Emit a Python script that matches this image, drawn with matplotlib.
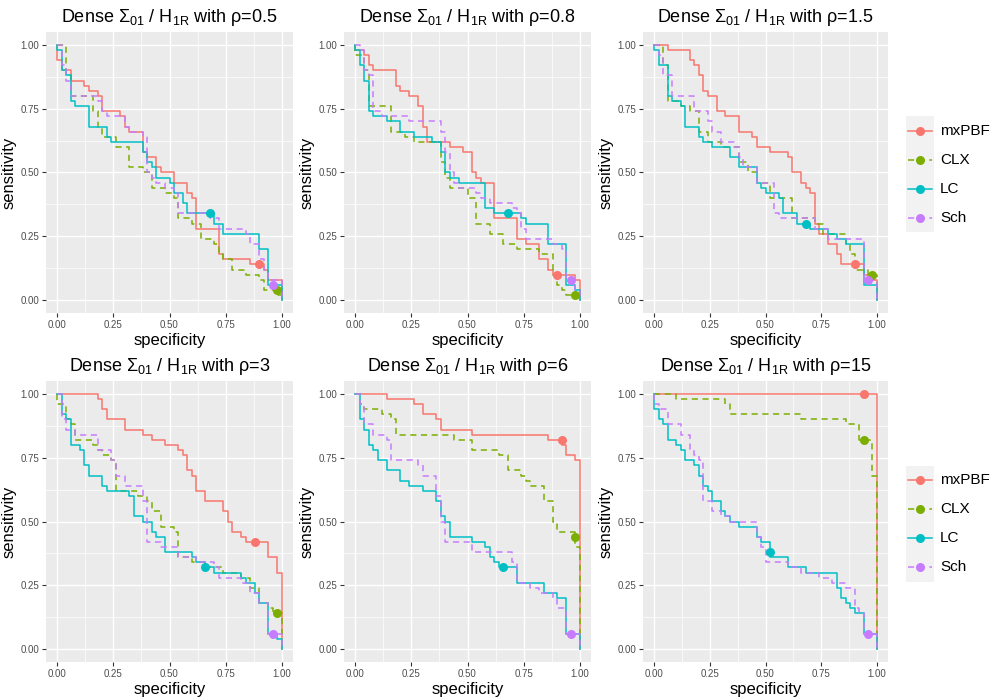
import matplotlib
matplotlib.use("Agg")
import matplotlib.pyplot as plt
from matplotlib.lines import Line2D
from matplotlib.patches import Rectangle

plt.rcParams['font.family'] = ['Liberation Sans', 'DejaVu Sans']
plt.rcParams['mathtext.fontset'] = 'custom'
plt.rcParams['mathtext.rm'] = 'Liberation Sans'
plt.rcParams['mathtext.default'] = 'regular'

methods = ['mxPBF', 'CLX', 'LC', 'Sch']
colors = ['#F8766D', '#7CAE00', '#00BFC4', '#C77CFF']
dashed = [False, True, False, True]
rhos = ['0.5', '0.8', '1.5', '3', '6', '15']

# ---- rho = 0.5 ----
r1_mx_x = [0, 0, 0.02, 0.06, 0.12, 0.14, 0.18, 0.20, 0.28, 0.30, 0.32, 0.38, 0.40, 0.44, 0.46, 0.52, 0.58, 0.60, 0.62, 0.72, 0.74, 0.86, 0.92, 0.94, 1]
r1_mx_y = [1, 0.94, 0.90, 0.86, 0.84, 0.82, 0.80, 0.74, 0.72, 0.68, 0.66, 0.58, 0.56, 0.52, 0.50, 0.46, 0.42, 0.40, 0.28, 0.18, 0.16, 0.14, 0.12, 0.08, 0]
r1_clx_x = [0, 0.04, 0.06, 0.16, 0.18, 0.20, 0.26, 0.32, 0.38, 0.42, 0.48, 0.52, 0.54, 0.60, 0.64, 0.70, 0.72, 0.74, 0.78, 0.84, 0.90, 0.92, 0.98, 1]
r1_clx_y = [1, 0.88, 0.80, 0.74, 0.68, 0.64, 0.60, 0.52, 0.50, 0.44, 0.42, 0.40, 0.32, 0.30, 0.24, 0.22, 0.18, 0.16, 0.12, 0.10, 0.08, 0.04, 0.02, 0]
r1_lc_x = [0, 0, 0.02, 0.04, 0.06, 0.08, 0.14, 0.22, 0.24, 0.38, 0.40, 0.42, 0.44, 0.50, 0.52, 0.56, 0.58, 0.70, 0.74, 0.90, 0.94, 1]
r1_lc_y = [1, 0.98, 0.90, 0.88, 0.78, 0.76, 0.68, 0.64, 0.62, 0.58, 0.54, 0.52, 0.48, 0.46, 0.42, 0.38, 0.34, 0.30, 0.26, 0.20, 0.06, 0]
r1_sch_x = [0, 0.02, 0.04, 0.06, 0.18, 0.20, 0.22, 0.30, 0.32, 0.38, 0.40, 0.42, 0.44, 0.48, 0.52, 0.54, 0.68, 0.72, 0.84, 0.86, 0.90, 0.92, 0.94, 1]
r1_sch_y = [1, 0.92, 0.86, 0.80, 0.78, 0.74, 0.72, 0.68, 0.66, 0.64, 0.50, 0.48, 0.46, 0.44, 0.42, 0.34, 0.32, 0.28, 0.26, 0.22, 0.16, 0.12, 0.08, 0]
r1_pts_x = [0.90, 0.98, 0.68, 0.96]
r1_pts_y = [0.14, 0.04, 0.34, 0.06]

# ---- rho = 0.8 ----
r2_mx_x = [0, 0, 0.04, 0.06, 0.08, 0.18, 0.20, 0.24, 0.28, 0.30, 0.32, 0.42, 0.48, 0.52, 0.54, 0.56, 0.62, 0.72, 0.76, 0.82, 0.86, 0.88, 0.98, 1]
r2_mx_y = [1, 0.98, 0.96, 0.92, 0.90, 0.84, 0.82, 0.80, 0.76, 0.68, 0.62, 0.60, 0.58, 0.50, 0.48, 0.46, 0.32, 0.24, 0.22, 0.16, 0.12, 0.10, 0.08, 0]
r2_clx_x = [0, 0, 0.04, 0.06, 0.16, 0.22, 0.26, 0.38, 0.40, 0.42, 0.50, 0.54, 0.60, 0.66, 0.72, 0.82, 0.88, 0.90, 0.92, 0.94, 1]
r2_clx_y = [1, 0.96, 0.90, 0.76, 0.66, 0.64, 0.62, 0.54, 0.48, 0.44, 0.40, 0.30, 0.26, 0.22, 0.20, 0.18, 0.10, 0.06, 0.04, 0.02, 0]
r2_lc_x = [0, 0, 0.02, 0.04, 0.06, 0.08, 0.14, 0.20, 0.26, 0.34, 0.38, 0.40, 0.42, 0.46, 0.58, 0.62, 0.74, 0.76, 0.86, 0.94, 0.98, 1]
r2_lc_y = [1, 0.98, 0.92, 0.86, 0.74, 0.72, 0.70, 0.66, 0.64, 0.62, 0.58, 0.50, 0.48, 0.46, 0.36, 0.34, 0.32, 0.30, 0.22, 0.06, 0.04, 0]
r2_sch_x = [0, 0.02, 0.04, 0.06, 0.08, 0.12, 0.24, 0.38, 0.40, 0.42, 0.44, 0.46, 0.54, 0.56, 0.60, 0.70, 0.72, 0.74, 0.76, 0.88, 0.92, 0.94, 0.98, 1]
r2_sch_y = [1, 0.98, 0.90, 0.88, 0.74, 0.72, 0.70, 0.66, 0.58, 0.50, 0.46, 0.44, 0.42, 0.40, 0.38, 0.36, 0.34, 0.28, 0.24, 0.22, 0.20, 0.08, 0.04, 0]
r2_pts_x = [0.90, 0.98, 0.68, 0.96]
r2_pts_y = [0.10, 0.02, 0.34, 0.08]

# ---- rho = 1.5 ----
r3_mx_x = [0, 0.06, 0.16, 0.18, 0.20, 0.22, 0.24, 0.28, 0.32, 0.38, 0.44, 0.46, 0.52, 0.60, 0.62, 0.66, 0.68, 0.70, 0.72, 0.74, 0.78, 0.82, 0.84, 0.94, 0.98, 1]
r3_mx_y = [1, 0.98, 0.94, 0.92, 0.88, 0.82, 0.80, 0.74, 0.72, 0.66, 0.64, 0.60, 0.58, 0.56, 0.50, 0.46, 0.44, 0.42, 0.30, 0.26, 0.22, 0.18, 0.14, 0.10, 0.08, 0]
r3_clx_x = [0, 0.04, 0.06, 0.12, 0.16, 0.20, 0.24, 0.30, 0.38, 0.42, 0.46, 0.52, 0.62, 0.72, 0.76, 0.86, 0.88, 0.90, 0.96, 1]
r3_clx_y = [1, 0.92, 0.78, 0.76, 0.74, 0.66, 0.62, 0.60, 0.54, 0.50, 0.46, 0.40, 0.32, 0.30, 0.26, 0.22, 0.18, 0.12, 0.10, 0]
r3_lc_x = [0, 0, 0.02, 0.06, 0.08, 0.12, 0.14, 0.20, 0.22, 0.26, 0.34, 0.38, 0.46, 0.48, 0.50, 0.56, 0.58, 0.64, 0.70, 0.78, 0.82, 0.86, 0.94, 1]
r3_lc_y = [1, 0.98, 0.92, 0.80, 0.78, 0.76, 0.68, 0.64, 0.62, 0.60, 0.56, 0.52, 0.46, 0.44, 0.42, 0.40, 0.34, 0.30, 0.28, 0.26, 0.24, 0.22, 0.06, 0]
r3_sch_x = [0, 0.02, 0.04, 0.08, 0.18, 0.24, 0.26, 0.30, 0.36, 0.38, 0.40, 0.46, 0.54, 0.56, 0.72, 0.78, 0.94, 1]
r3_sch_y = [1, 0.96, 0.88, 0.80, 0.74, 0.70, 0.66, 0.62, 0.60, 0.56, 0.52, 0.46, 0.34, 0.32, 0.28, 0.24, 0.08, 0]
r3_pts_x = [0.90, 0.98, 0.68, 0.96]
r3_pts_y = [0.14, 0.10, 0.30, 0.08]

# ---- rho = 3 ----
r4_mx_x = [0, 0.18, 0.20, 0.22, 0.30, 0.38, 0.42, 0.48, 0.54, 0.56, 0.58, 0.60, 0.62, 0.66, 0.74, 0.76, 0.78, 0.82, 0.84, 0.94, 0.98, 1]
r4_mx_y = [1, 0.98, 0.94, 0.90, 0.86, 0.84, 0.82, 0.80, 0.78, 0.76, 0.70, 0.68, 0.62, 0.58, 0.54, 0.50, 0.46, 0.44, 0.42, 0.36, 0.30, 0]
r4_clx_x = [0, 0, 0.04, 0.06, 0.08, 0.16, 0.18, 0.20, 0.24, 0.26, 0.36, 0.40, 0.42, 0.46, 0.52, 0.54, 0.60, 0.66, 0.74, 0.82, 0.86, 0.90, 0.94, 0.96, 1]
r4_clx_y = [1, 0.96, 0.90, 0.88, 0.82, 0.80, 0.78, 0.76, 0.74, 0.62, 0.60, 0.58, 0.54, 0.48, 0.46, 0.36, 0.34, 0.32, 0.30, 0.28, 0.24, 0.18, 0.16, 0.14, 0]
r4_lc_x = [0, 0.02, 0.04, 0.06, 0.10, 0.12, 0.14, 0.20, 0.22, 0.32, 0.34, 0.38, 0.42, 0.44, 0.48, 0.60, 0.62, 0.66, 0.70, 0.82, 0.84, 0.88, 0.90, 0.94, 0.98, 1]
r4_lc_y = [1, 0.92, 0.90, 0.80, 0.78, 0.72, 0.68, 0.64, 0.62, 0.60, 0.52, 0.50, 0.46, 0.44, 0.38, 0.36, 0.34, 0.32, 0.30, 0.28, 0.26, 0.22, 0.18, 0.06, 0.04, 0]
r4_sch_x = [0, 0.02, 0.04, 0.08, 0.18, 0.24, 0.26, 0.30, 0.38, 0.40, 0.46, 0.54, 0.62, 0.70, 0.72, 0.82, 0.86, 0.90, 0.94, 1]
r4_sch_y = [1, 0.90, 0.86, 0.84, 0.78, 0.74, 0.68, 0.64, 0.58, 0.42, 0.40, 0.36, 0.34, 0.32, 0.28, 0.26, 0.22, 0.18, 0.06, 0]
r4_pts_x = [0.88, 0.98, 0.66, 0.96]
r4_pts_y = [0.42, 0.14, 0.32, 0.06]

# ---- rho = 6 ----
r5_mx_x = [0, 0.14, 0.26, 0.30, 0.36, 0.38, 0.52, 0.86, 0.92, 0.94, 0.98, 1]
r5_mx_y = [1, 0.98, 0.96, 0.92, 0.90, 0.86, 0.84, 0.82, 0.80, 0.76, 0.74, 0]
r5_clx_x = [0, 0.02, 0.04, 0.12, 0.16, 0.18, 0.44, 0.52, 0.64, 0.68, 0.74, 0.76, 0.78, 0.84, 0.88, 0.90, 0.98, 1]
r5_clx_y = [1, 0.96, 0.94, 0.92, 0.90, 0.84, 0.82, 0.78, 0.76, 0.70, 0.68, 0.66, 0.64, 0.58, 0.50, 0.46, 0.40, 0]
r5_lc_x = [0, 0.02, 0.04, 0.06, 0.08, 0.10, 0.14, 0.20, 0.24, 0.30, 0.36, 0.38, 0.40, 0.42, 0.52, 0.58, 0.60, 0.62, 0.64, 0.72, 0.84, 0.90, 0.94, 1]
r5_lc_y = [1, 0.90, 0.86, 0.80, 0.78, 0.74, 0.70, 0.66, 0.64, 0.62, 0.58, 0.52, 0.50, 0.44, 0.42, 0.40, 0.36, 0.34, 0.32, 0.26, 0.22, 0.20, 0.06, 0]
r5_sch_x = [0, 0.02, 0.04, 0.08, 0.14, 0.16, 0.28, 0.30, 0.36, 0.38, 0.40, 0.52, 0.70, 0.72, 0.78, 0.82, 0.88, 0.90, 0.94, 1]
r5_sch_y = [1, 0.96, 0.88, 0.84, 0.82, 0.74, 0.72, 0.68, 0.60, 0.50, 0.42, 0.38, 0.34, 0.26, 0.24, 0.22, 0.20, 0.16, 0.06, 0]
r5_pts_x = [0.92, 0.98, 0.66, 0.96]
r5_pts_y = [0.82, 0.44, 0.32, 0.06]

# ---- rho = 15 ----
r6_mx_x = [0, 1]
r6_mx_y = [1, 0]
r6_clx_x = [0, 0.10, 0.32, 0.34, 0.66, 0.86, 0.92, 0.98, 1]
r6_clx_y = [1, 0.98, 0.96, 0.92, 0.90, 0.88, 0.82, 0.68, 0]
r6_lc_x = [0, 0, 0.02, 0.04, 0.06, 0.10, 0.12, 0.14, 0.18, 0.20, 0.22, 0.24, 0.26, 0.30, 0.32, 0.34, 0.38, 0.46, 0.48, 0.52, 0.60, 0.68, 0.82, 0.84, 0.86, 0.88, 0.90, 0.94, 1]
r6_lc_y = [1, 0.94, 0.90, 0.88, 0.82, 0.80, 0.78, 0.74, 0.72, 0.68, 0.64, 0.62, 0.58, 0.54, 0.52, 0.50, 0.48, 0.44, 0.42, 0.36, 0.32, 0.30, 0.24, 0.20, 0.18, 0.16, 0.14, 0.06, 0]
r6_sch_x = [0, 0, 0.02, 0.06, 0.12, 0.16, 0.18, 0.20, 0.22, 0.26, 0.30, 0.34, 0.46, 0.48, 0.50, 0.60, 0.66, 0.74, 0.80, 0.86, 0.90, 0.92, 0.94, 1]
r6_sch_y = [1, 0.96, 0.94, 0.88, 0.84, 0.78, 0.76, 0.74, 0.58, 0.54, 0.52, 0.50, 0.44, 0.40, 0.34, 0.32, 0.30, 0.28, 0.26, 0.24, 0.16, 0.14, 0.06, 0]
r6_pts_x = [0.94, 0.94, 0.52, 0.96]
r6_pts_y = [1.00, 0.82, 0.38, 0.06]

curves = [
    [(r1_mx_x, r1_mx_y), (r1_clx_x, r1_clx_y), (r1_lc_x, r1_lc_y), (r1_sch_x, r1_sch_y)],
    [(r2_mx_x, r2_mx_y), (r2_clx_x, r2_clx_y), (r2_lc_x, r2_lc_y), (r2_sch_x, r2_sch_y)],
    [(r3_mx_x, r3_mx_y), (r3_clx_x, r3_clx_y), (r3_lc_x, r3_lc_y), (r3_sch_x, r3_sch_y)],
    [(r4_mx_x, r4_mx_y), (r4_clx_x, r4_clx_y), (r4_lc_x, r4_lc_y), (r4_sch_x, r4_sch_y)],
    [(r5_mx_x, r5_mx_y), (r5_clx_x, r5_clx_y), (r5_lc_x, r5_lc_y), (r5_sch_x, r5_sch_y)],
    [(r6_mx_x, r6_mx_y), (r6_clx_x, r6_clx_y), (r6_lc_x, r6_lc_y), (r6_sch_x, r6_sch_y)],
]
points = [(r1_pts_x, r1_pts_y), (r2_pts_x, r2_pts_y), (r3_pts_x, r3_pts_y),
          (r4_pts_x, r4_pts_y), (r5_pts_x, r5_pts_y), (r6_pts_x, r6_pts_y)]

W, H = 1000, 700
fig = plt.figure(figsize=(10, 7), dpi=100)

# panel boxes in pixels: left, top, right, bottom
lefts = [46, 344, 643]
rights = [293, 591, 888]
tops = [32, 381]
bottoms = [313, 662]

for k in range(6):
    r, c = divmod(k, 3)
    ax = fig.add_axes([lefts[c] / W, 1 - bottoms[r] / H,
                       (rights[c] - lefts[c]) / W, (bottoms[r] - tops[r]) / H])
    ax.set_facecolor('#EBEBEB')
    for s in ax.spines.values():
        s.set_visible(False)
    ax.set_xlim(-0.05, 1.05)
    ax.set_ylim(-0.05, 1.05)
    ticks = [0, 0.25, 0.5, 0.75, 1]
    ax.set_xticks(ticks)
    ax.set_yticks(ticks)
    ax.set_xticklabels(['0.00', '0.25', '0.50', '0.75', '1.00'])
    ax.set_yticklabels(['0.00', '0.25', '0.50', '0.75', '1.00'])
    ax.set_xticks([0.125, 0.375, 0.625, 0.875], minor=True)
    ax.set_yticks([0.125, 0.375, 0.625, 0.875], minor=True)
    ax.grid(which='major', color='white', lw=1.0)
    ax.grid(which='minor', color='white', lw=0.5)
    ax.set_axisbelow(True)
    ax.tick_params(which='major', length=3, width=0.8, color='#333333',
                   labelcolor='#4D4D4D', labelsize=7, pad=2)
    ax.tick_params(which='minor', length=0)

    for m in range(4):
        xs, ys = curves[k][m]
        ax.step(xs, ys, where='post', color=colors[m], lw=1.1,
                ls=(0, (4, 3)) if dashed[m] else '-')
    px, py = points[k]
    for m in range(4):
        ax.plot(px[m], py[m], 'o', color=colors[m], ms=6.5, mec='none')

    ax.set_title('Dense Σ$_{01}$ / H$_{1R}$ with ρ=' + rhos[k], fontsize=13, pad=7)
    ax.set_xlabel('specificity', fontsize=12, labelpad=2)
    ax.set_ylabel('sensitivity', fontsize=12, labelpad=3)

# legends, one per row
for r in range(2):
    yc = (tops[r] + bottoms[r]) / 2 + 2
    fig.add_artist(Rectangle((906 / W, 1 - (yc + 58) / H), 28 / W, 116 / H,
                             transform=fig.transFigure, color='#F2F2F2', lw=0))
    for m in range(4):
        yk = yc - 43.5 + 29 * m
        fy = 1 - yk / H
        fig.add_artist(Line2D([908 / W, 932 / W], [fy, fy], transform=fig.transFigure,
                              color=colors[m], lw=1.1,
                              ls=(0, (4, 3)) if dashed[m] else '-'))
        fig.add_artist(Line2D([920 / W], [fy], transform=fig.transFigure, marker='o',
                              color=colors[m], ms=6.5, mec='none', lw=0))
        fig.text(940 / W, fy, methods[m], fontsize=11, va='center', ha='left')

fig.savefig('out.png', dpi=100)
